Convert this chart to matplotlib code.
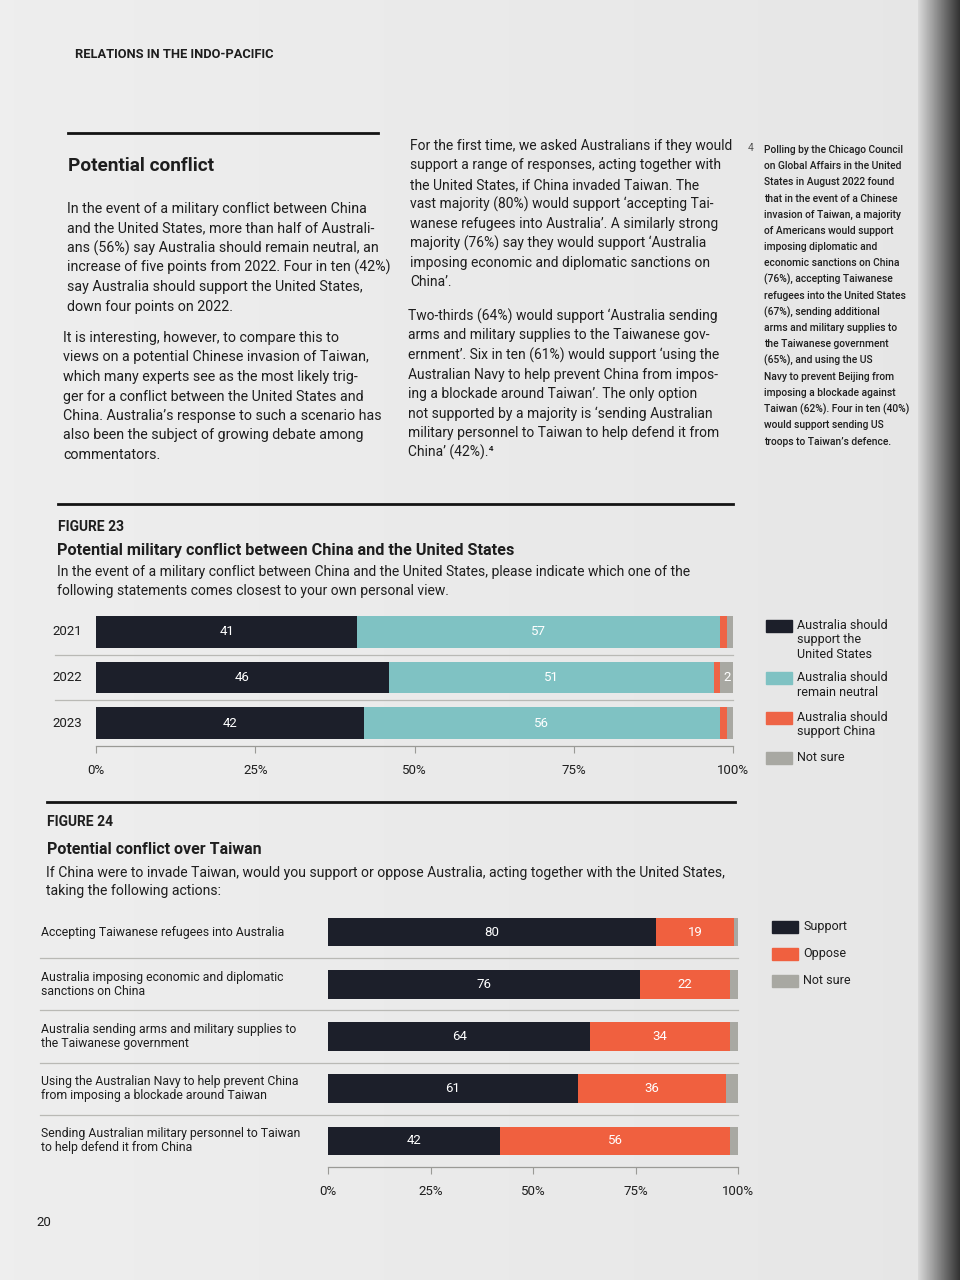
import numpy as np
import matplotlib
matplotlib.use('Agg')
import matplotlib.pyplot as plt
from matplotlib.lines import Line2D
from matplotlib.patches import Rectangle

plt.rcParams['font.family'] = ['Roboto', 'DejaVu Sans']

# ---- data: figure 23 ----
years = ['2021', '2022', '2023']
support_us = [41, 46, 42]
neutral = [57, 51, 56]
support_china = [1, 1, 1]
not_sure_23 = [1, 2, 1]
legend_23 = ['Australia should\nsupport the\nUnited States',
             'Australia should\nremain neutral',
             'Australia should\nsupport China',
             'Not sure']

# ---- data: figure 24 ----
actions = ['Accepting Taiwanese refugees into Australia',
           'Australia imposing economic and diplomatic\nsanctions on China',
           'Australia sending arms and military supplies to\nthe Taiwanese government',
           'Using the Australian Navy to help prevent China\nfrom imposing a blockade around Taiwan',
           'Sending Australian military personnel to Taiwan\nto help defend it from China']
support = [80, 76, 64, 61, 42]
oppose = [19, 22, 34, 36, 56]
not_sure_24 = [1, 2, 2, 3, 2]
legend_24 = ['Support', 'Oppose', 'Not sure']

pct_ticks = [0, 25, 50, 75, 100]
pct_labels = ['0%', '25%', '50%', '75%', '100%']

NAVY = '#1c1f2a'
TEAL = '#7fc2c3'
ORANGE = '#ee6446'
OPPOSE = '#f0603f'
GREY = '#a8a8a2'
TEXT = '#1e1e1e'
PAGE = '#e9e9e6'

W, H = 960, 1280
fig = plt.figure(figsize=(9.6, 12.8), dpi=100)
fig.patch.set_facecolor(PAGE)


def fx(x):
    return x / W


def fy(y):
    return 1 - y / H


def txt(x, y, s, **kw):
    kw.setdefault('color', TEXT)
    kw.setdefault('va', 'center')
    fig.text(fx(x), fy(y), s, **kw)


def lines(x, y0, step, rows, **kw):
    for i, r in enumerate(rows):
        txt(x, y0 + i * step, r, **kw)


def rule(x0, x1, y, lw=2.0, color='#141414'):
    fig.add_artist(Line2D([fx(x0), fx(x1)], [fy(y), fy(y)], lw=lw, color=color,
                          transform=fig.transFigure))


# page shading and dark edge on the right
bg = fig.add_axes([0, 0, 1, 1], zorder=-5)
grad = np.linspace(0, 1, 200)
shade = np.ones((10, 200)) * 0.93 - 0.03 * grad[None, :]
bg.imshow(shade, cmap='gray', vmin=0, vmax=1, aspect='auto', extent=[0, 1, 0, 1])
edge = np.linspace(0.85, 0.2, 60)[None, :]
bg.imshow(edge, cmap='gray', vmin=0, vmax=1, aspect='auto',
          extent=[fx(918), 1, 0, 1])
bg.set_xlim(0, 1)
bg.set_ylim(0, 1)
bg.axis('off')

# ---- page text ----
txt(75, 55, 'RELATIONS IN THE INDO-PACIFIC', fontsize=9.3, fontweight='bold')
rule(68, 378, 133)
txt(68, 166, 'Potential conflict', fontsize=13.7, fontweight='bold')

lines(67, 209, 19.5, [
    'In the event of a military conflict between China',
    'and the United States, more than half of Australi-',
    'ans (56%) say Australia should remain neutral, an',
    'increase of five points from 2022. Four in ten (42%)',
    'say Australia should support the United States,',
    'down four points on 2022.'], fontsize=10.3)
lines(63, 338, 19.5, [
    'It is interesting, however, to compare this to',
    'views on a potential Chinese invasion of Taiwan,',
    'which many experts see as the most likely trig-',
    'ger for a conflict between the United States and',
    'China. Australia\u2019s response to such a scenario has',
    'also been the subject of growing debate among',
    'commentators.'], fontsize=10.3)
lines(410, 146, 19.5, [
    'For the first time, we asked Australians if they would',
    'support a range of responses, acting together with',
    'the United States, if China invaded Taiwan. The',
    'vast majority (80%) would support \u2018accepting Tai-',
    'wanese refugees into Australia\u2019. A similarly strong',
    'majority (76%) say they would support \u2018Australia',
    'imposing economic and diplomatic sanctions on',
    'China\u2019.'], fontsize=10.0)
lines(408, 316, 19.5, [
    'Two-thirds (64%) would support \u2018Australia sending',
    'arms and military supplies to the Taiwanese gov-',
    'ernment\u2019. Six in ten (61%) would support \u2018using the',
    'Australian Navy to help prevent China from impos-',
    'ing a blockade around Taiwan\u2019. The only option',
    'not supported by a majority is \u2018sending Australian',
    'military personnel to Taiwan to help defend it from',
    'China\u2019 (42%).\u2074'], fontsize=10.0)

txt(748, 148, '4', fontsize=7.5, color='#555555')
lines(764, 150, 16.2, [
    'Polling by the Chicago Council',
    'on Global Affairs in the United',
    'States in August 2022 found',
    'that in the event of a Chinese',
    'invasion of Taiwan, a majority',
    'of Americans would support',
    'imposing diplomatic and',
    'economic sanctions on China',
    '(76%), accepting Taiwanese',
    'refugees into the United States',
    '(67%), sending additional',
    'arms and military supplies to',
    'the Taiwanese government',
    '(65%), and using the US',
    'Navy to prevent Beijing from',
    'imposing a blockade against',
    'Taiwan (62%). Four in ten (40%)',
    'would support sending US',
    'troops to Taiwan\u2019s defence.'], fontsize=7.4, fontweight='medium')


def axes_px(x0, y0, x1, y1):
    return fig.add_axes([fx(x0), fy(y1), fx(x1) - fx(x0), (y1 - y0) / H])


def stacked(ax, cats, series, label_min, left_ext, bar_h):
    n = len(cats)
    pos = np.arange(n)
    left = np.zeros(n)
    for vals, col in series:
        vals = np.array(vals, dtype=float)
        ax.barh(pos, vals, left=left, height=bar_h, color=col, linewidth=0)
        for p, v, l in zip(pos, vals, left):
            if v >= label_min:
                ax.text(l + v / 2, p, f'{int(v)}', color='white', fontsize=9.5,
                        ha='center', va='center')
        left += vals
    for b in np.arange(n - 1) + 0.5:
        ax.axhline(b, xmin=left_ext, xmax=1, color='#b9b9b5', lw=0.9, clip_on=False)
    ax.set_xlim(0, 100)
    ax.set_ylim(n - 0.5, -0.5)
    ax.set_facecolor('none')
    for s in ['top', 'right', 'left']:
        ax.spines[s].set_visible(False)
    ax.spines['bottom'].set_color('#9a9a96')
    ax.spines['bottom'].set_linewidth(0.9)
    ax.set_xticks(pct_ticks)
    ax.set_xticklabels(pct_labels, fontsize=9.5, color=TEXT)
    ax.tick_params(axis='x', length=5, color='#9a9a96', pad=8)
    ax.set_yticks([])


def legend(x, ys, labels, colors):
    for y, lab, col in zip(ys, labels, colors):
        fig.add_artist(Rectangle((fx(x), fy(y + 6)), 26 / W, 12 / H, color=col,
                                 transform=fig.transFigure))
        txt(x + 31, y - 7, lab, fontsize=9, va='top', linespacing=1.15)


# ---- Figure 23 ----
rule(58, 733, 504)
txt(58, 527, 'FIGURE 23', fontsize=10, fontweight='bold')
txt(57, 550, 'Potential military conflict between China and the United States',
    fontsize=11.7, fontweight='bold')
lines(57, 572, 18.5, [
    'In the event of a military conflict between China and the United States, please indicate which one of the',
    'following statements comes closest to your own personal view.'], fontsize=10)

ax1 = axes_px(96, 609, 733, 746)
stacked(ax1, years, [(support_us, NAVY), (neutral, TEAL),
                     (support_china, ORANGE), (not_sure_23, GREY)],
        2, -41 / 637, 0.7)
for i, y in enumerate(years):
    ax1.text(-0.022, i, y, transform=ax1.get_yaxis_transform(), ha='right',
             va='center', fontsize=9.5, color=TEXT)
legend(766, [626, 678, 718, 758], legend_23, [NAVY, TEAL, ORANGE, GREY])

# ---- Figure 24 ----
rule(47, 735, 802)
txt(47, 822, 'FIGURE 24', fontsize=10, fontweight='bold')
txt(47, 849, 'Potential conflict over Taiwan', fontsize=11.5, fontweight='bold')
lines(46, 873, 18.5, [
    'If China were to invade Taiwan, would you support or oppose Australia, acting together with the United States,',
    'taking the following actions:'], fontsize=10.1)

ax2 = axes_px(328, 906, 738, 1167)
stacked(ax2, actions, [(support, NAVY), (oppose, OPPOSE), (not_sure_24, GREY)],
        5, -288 / 410, 0.55)
for i, a in enumerate(actions):
    ax2.text(-0.70, i, a, transform=ax2.get_yaxis_transform(), ha='left',
             va='center', fontsize=8.8, color=TEXT, linespacing=1.1)
legend(772, [927, 954, 981], legend_24, [NAVY, OPPOSE, GREY])

txt(36, 1222, '20', fontsize=9.5)

fig.savefig('out.png', dpi=100, facecolor=fig.get_facecolor())
